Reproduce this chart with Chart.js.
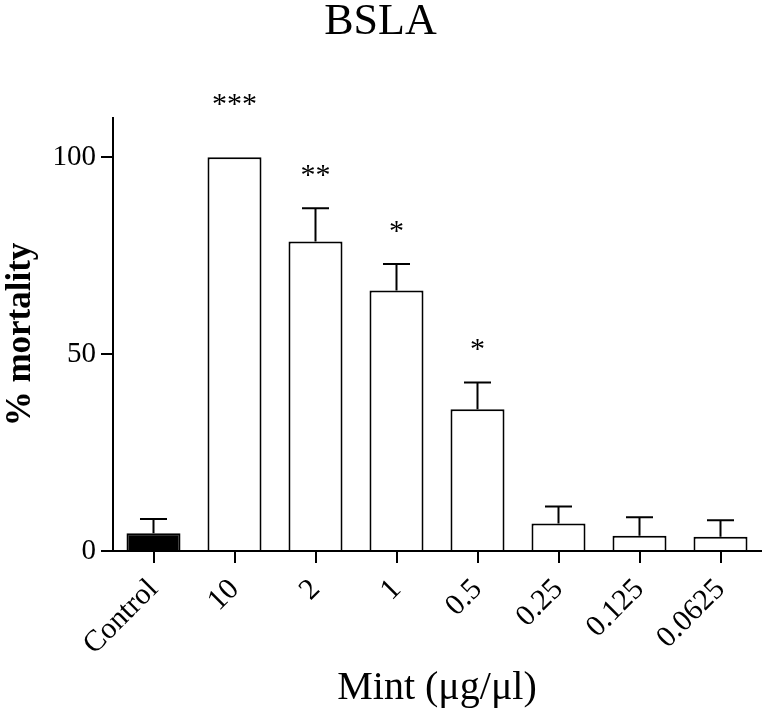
<!DOCTYPE html>
<html>
<head>
<meta charset="utf-8">
<script src="https://cdn.jsdelivr.net/npm/chart.js@4.4.0/dist/chart.umd.min.js"></script>
<style>body{margin:0;background:#fff}</style>
</head>
<body>
<canvas id="bsla" width="768" height="714"></canvas>
<script>
// values (mean % mortality + upper SEM)
const doses = ['Control', '10', '2', '1', '0.5', '0.25', '0.125', '0.0625'];
const mortality = [4.5, 100, 78.6, 66.2, 36.0, 7.0, 3.9, 3.6];
const sem = [3.6, 0, 8.5, 6.7, 6.8, 4.3, 4.7, 4.2];
const stars = ['', '***', '**', '*', '*', '', '', ''];
const yTicks = [0, 50, 100];

const serif = '"Liberation Serif", "Times New Roman", serif';

// error bars (upper only) + significance stars
const errorBars = {
    id: 'errorBars',
    afterDatasetsDraw(chart) {
        const ctx = chart.ctx;
        const y = chart.scales.y;
        const meta = chart.getDatasetMeta(0);
        ctx.save();
        ctx.strokeStyle = '#000';
        ctx.lineWidth = 2;
        ctx.fillStyle = '#000';
        ctx.font = '30px ' + serif;
        ctx.textAlign = 'center';
        ctx.textBaseline = 'middle';
        meta.data.forEach((bar, i) => {
            const top = y.getPixelForValue(mortality[i] + sem[i]);
            if (sem[i] > 0) {
                const half = bar.width / 4;
                ctx.beginPath();
                ctx.moveTo(bar.x, bar.y);
                ctx.lineTo(bar.x, top);
                ctx.moveTo(bar.x - half, top);
                ctx.lineTo(bar.x + half, top);
                ctx.stroke();
            }
            // full bar (no error) gets its stars a bit higher, as in the figure
            if (stars[i]) ctx.fillText(stars[i], bar.x, top - (sem[i] > 0 ? 32 : 52));
        });
        ctx.restore();
    }
};

new Chart(document.getElementById('bsla'), {
    type: 'bar',
    data: {
        labels: doses,
        datasets: [{
            data: mortality,
            backgroundColor: doses.map(d => d === 'Control' ? '#000' : '#fff'),
            borderColor: '#000',
            borderWidth: 2,
            barPercentage: 0.667,
            categoryPercentage: 1
        }]
    },
    options: {
        responsive: false,
        animation: false,
        layout: { padding: { left: 0, right: 7, top: 0, bottom: 0 } },
        plugins: {
            legend: { display: false },
            tooltip: { enabled: false },
            title: {
                display: true,
                text: 'BSLA',
                color: '#000',
                font: { family: serif, size: 44, weight: 'normal', lineHeight: 1 },
                padding: { top: 0, bottom: 74 }
            }
        },
        scales: {
            x: {
                afterFit: s => { s.height = 163; },
                grid: { display: true, offset: false, drawOnChartArea: false, drawTicks: true, tickLength: 12, color: '#000', lineWidth: 2 },
                border: { display: true, color: '#000', width: 2 },
                ticks: { color: '#000', font: { family: serif, size: 30 }, minRotation: 45, maxRotation: 45, padding: 9, autoSkip: false },
                title: { display: true, text: 'Mint (μg/μl)', color: '#000', font: { family: serif, size: 40 }, padding: { top: 0, bottom: 2 } }
            },
            y: {
                min: 0,
                max: 110,
                afterFit: s => { s.width = 113; },
                afterBuildTicks: s => { s.ticks = yTicks.map(v => ({ value: v })); },
                grid: { display: true, drawOnChartArea: false, drawTicks: true, tickLength: 12, color: '#000', lineWidth: 2 },
                border: { display: true, color: '#000', width: 2 },
                ticks: { color: '#000', font: { family: serif, size: 29 }, padding: 5 },
                title: { display: true, text: '% mortality', color: '#000', font: { family: serif, size: 35, weight: 'bold', lineHeight: 1.2 }, padding: 0 }
            }
        }
    },
    plugins: [errorBars]
});
</script>
</body>
</html>
